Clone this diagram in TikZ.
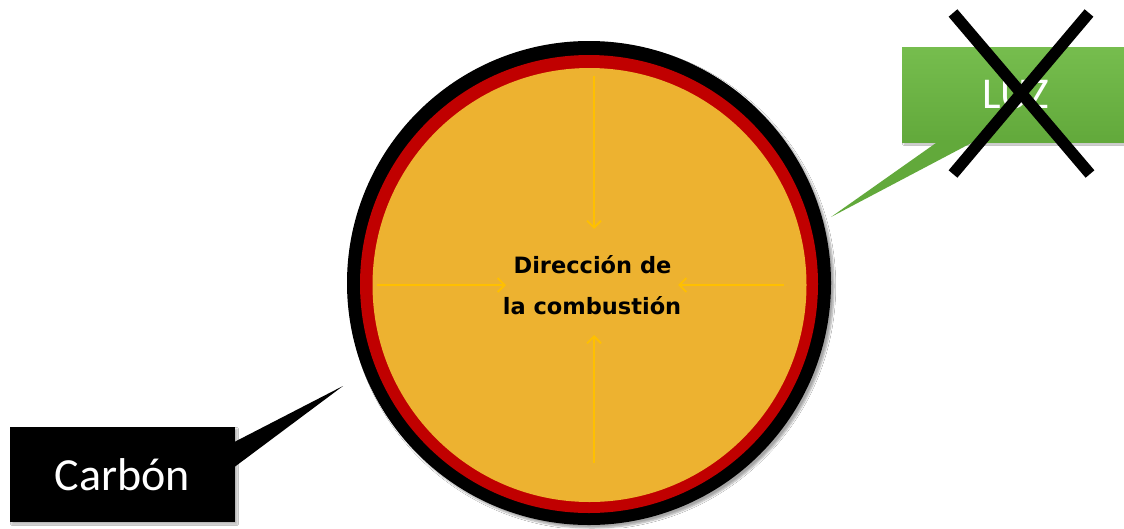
\documentclass[tikz,border=0pt]{standalone}
\usepackage{fontspec}
\newfontfamily\carlito{Carlito}
\newfontfamily\dejavu{DejaVu Sans}
\usetikzlibrary{arrows.meta,calc,shadows.blur}
\definecolor{ringred}{HTML}{C00000}
\definecolor{coreyellow}{HTML}{EDB230}
\definecolor{arrowgold}{HTML}{FFC000}
\definecolor{greentop}{HTML}{76BD4E}
\definecolor{greenbot}{HTML}{62A93B}
\tikzset{
  disc/.style={circle, inner sep=0pt, draw=none},
  flowarrow/.style={draw=arrowgold, line width=1.8pt, -{Straight Barb[length=7pt,width=14pt,line width=1.8pt]}},
  labelbox/.style={rectangle, inner sep=0pt, text=white, font=\carlito\fontsize{46}{50}\selectfont},
  centertext/.style={font=\dejavu\bfseries\fontsize{22.5}{26}\selectfont, text=black, inner sep=0pt, anchor=base},
  crossbar/.style={line width=11.5pt, draw=black}
}
\begin{document}
\begin{tikzpicture}[x=1pt,y=-1pt]
\useasboundingbox (0,0) rectangle (1124,528);
\fill[white] (0,0) rectangle (1124,528);
% discs
\node[disc, fill=black, minimum size=484pt, blur shadow={shadow xshift=3pt, shadow yshift=-3pt, shadow blur steps=6, shadow opacity=35}] (outer) at (589,283) {};
\node[disc, fill=ringred, minimum size=458pt] (ring) at (589,284) {};
\node[disc, fill=coreyellow, minimum size=434pt] (core) at (589.5,285) {};
% centre text
\node[centertext] (line1) at (592.5,273) {Dirección de};
\node[centertext] (line2) at (592,314.5) {la combustión};
% arrows
\coordinate (topS) at (594,76);
\coordinate (topE) at (594,229);
\coordinate (botS) at (594,463);
\coordinate (botE) at (594,335);
\coordinate (lefS) at (377,285);
\coordinate (lefE) at (506,285);
\coordinate (rigS) at (784,285);
\coordinate (rigE) at (678,285);
\draw[flowarrow] (topS) -- (topE);
\draw[flowarrow] (botS) -- (botE);
\draw[flowarrow] (lefS) -- (lefE);
\draw[flowarrow] (rigS) -- (rigE);
% green callout
\coordinate (luztip) at (831,217);
\node[labelbox, top color=greentop, bottom color=greenbot, minimum width=222pt, minimum height=95pt, blur shadow={shadow xshift=2pt, shadow yshift=-2pt, shadow blur steps=4, shadow opacity=30}] (luz) at (1013,94.5) {};
\fill[greenbot] ($(luz.south west)+(36,-0.5)$) -- (luztip) -- ($(luz.south west)+(72,-0.5)$) -- cycle;
\node[labelbox, font=\carlito\fontsize{44}{48}\selectfont] (luztext) at (1016,95) {LUZ};
% cross
\coordinate (xa) at (953,13);
\coordinate (xb) at (1090,174);
\coordinate (xc) at (1089,13);
\coordinate (xd) at (953,174);
\draw[crossbar] (xa) -- (xb);
\draw[crossbar] (xc) -- (xd);
% black callout
\coordinate (carbontip) at (343,386);
\node[labelbox, fill=black, minimum width=225pt, minimum height=95pt, blur shadow={shadow xshift=2pt, shadow yshift=-2pt, shadow blur steps=4, shadow opacity=30}] (carbon) at (122.5,474.5) {};
\fill[black] ($(carbon.north east)+(-0.5,15)$) -- (carbontip) -- ($(carbon.north east)+(-0.5,40)$) -- cycle;
\node[labelbox] (carbontext) at (122.5,474.5) {Carbón};
\end{tikzpicture}
\end{document}
